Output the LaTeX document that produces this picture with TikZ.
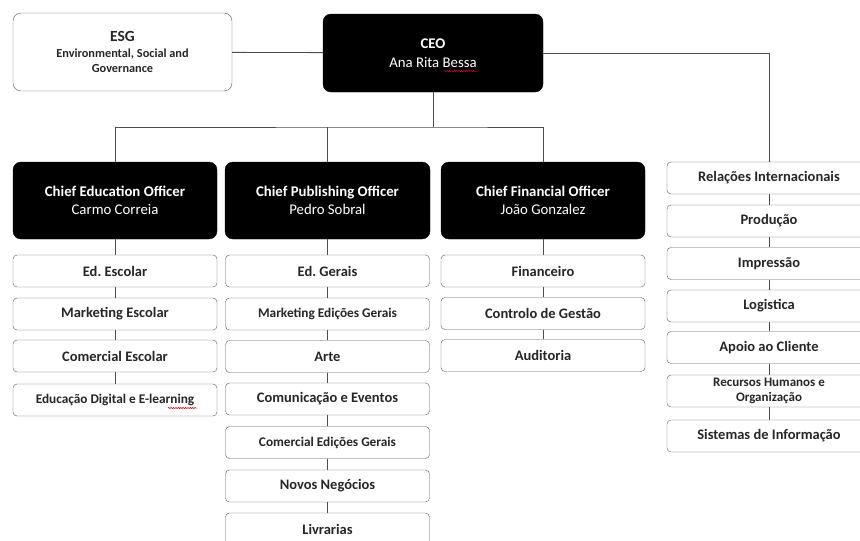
\documentclass[tikz,border=0pt]{standalone}
\usepackage{fontspec}
\setmainfont{Carlito}
\usetikzlibrary{calc,decorations.pathmorphing}
\frenchspacing
\newcommand{\person}[1]{\mdseries #1}
\tikzset{
  chief/.style={draw=black,fill=black,text=white,rounded corners=8pt,align=center,
    minimum width=204pt,minimum height=77pt,font=\bfseries\fontsize{14.8}{18.5}\selectfont},
  unit/.style={draw=black!65,fill=white,text=black!85,rounded corners=4pt,align=center,
    minimum width=204pt,minimum height=32pt,inner sep=0pt,font=\bfseries\fontsize{14.5}{15}\selectfont},
  small/.style={font=\bfseries\fontsize{13.3}{14}\selectfont},
  link/.style={draw=black!70,line width=0.8pt},
  spelling/.style={draw=red!80!black,line width=0.5pt,decorate,
    decoration={snake,amplitude=0.6pt,segment length=2.4pt}}
}
\begin{document}
\begin{tikzpicture}[x=1pt,y=-1pt]
\useasboundingbox (0,0) rectangle (860,541);
\clip (0,0) rectangle (860,541);

% top level
\node[unit,minimum width=219pt,minimum height=78pt,rounded corners=8pt,align=center] (esg) at (122.5,52)
  {\fontsize{15.5}{16}\selectfont ESG\\[1pt]\fontsize{12.3}{15}\selectfont Environmental, Social and\\\fontsize{12.3}{15}\selectfont Governance};
\node[chief,minimum width=220pt,minimum height=78pt] (ceo) at (433,53)
  {CEO\\\person{Ana Rita Bessa}};
\coordinate (bus) at (433,127);

% chiefs
\node[chief] (edu) at (115,200.5) {Chief Education Officer\\\person{Carmo Correia}};
\node[chief,minimum width=205pt] (pub) at (327.5,200.5) {Chief Publishing Officer\\\person{Pedro Sobral}};
\node[chief] (fin) at (543,200.5) {Chief Financial Officer\\\person{João Gonzalez}};

% education
\node[unit] (edu1) at (115,271) {Ed. Escolar};
\node[unit] (edu2) at (115,314) {Marketing Escolar};
\node[unit] (edu3) at (115,356) {Comercial Escolar};
\node[unit,small] (edu4) at (115,400) {Educação Digital e E-learning};

% publishing
\node[unit] (pub1) at (327.5,271) {Ed. Gerais};
\node[unit,small] (pub2) at (327.5,314) {Marketing Edições Gerais};
\node[unit] (pub3) at (327.5,356.5) {Arte};
\node[unit] (pub4) at (327.5,399) {Comunicação e Eventos};
\node[unit,small] (pub5) at (327.5,442.5) {Comercial Edições Gerais};
\node[unit] (pub6) at (327.5,486) {Novos Negócios};
\node[unit] (pub7) at (327.5,529) {Livrarias};

% financial
\node[unit] (fin1) at (543,271) {Financeiro};
\node[unit] (fin2) at (543,313.5) {Controlo de Gestão};
\node[unit] (fin3) at (543,355.5) {Auditoria};

% staff
\node[unit] (stf1) at (769,178) {Relações Internacionais};
\node[unit] (stf2) at (769,221) {Produção};
\node[unit] (stf3) at (769,263.5) {Impressão};
\node[unit] (stf4) at (769,306) {Logistica};
\node[unit] (stf5) at (769,347.5) {Apoio ao Cliente};
\node[unit,font=\bfseries\fontsize{13}{15}\selectfont] (stf6) at (769,391) {Recursos Humanos e\\Organização};
\node[unit] (stf7) at (769,436) {Sistemas de Informação};

% spell-check marks
\draw[spelling] ($(ceo.center)+(11,18)$) -- ++(32,0);
\draw[spelling] ($(edu4.center)+(53,8)$) -- ++(29,0);

% connectors
\draw[link] (esg) -- (ceo);
\draw[link] (ceo.east) -| (stf1.north);
\draw[link] (ceo) -- (bus);
\draw[link] (edu.north) |- (bus) -| (fin.north);
\draw[link] (pub.north) -- (pub.north |- bus);
\draw[link] (edu) -- (edu1) -- (edu2) -- (edu3) -- (edu4);
\draw[link] (pub) -- (pub1) -- (pub2) -- (pub3) -- (pub4) -- (pub5) -- (pub6) -- (pub7);
\draw[link] (fin) -- (fin1) -- (fin2) -- (fin3);
\draw[link] (stf1) -- (stf2) -- (stf3) -- (stf4) -- (stf5) -- (stf6) -- (stf7);
\end{tikzpicture}
\end{document}
